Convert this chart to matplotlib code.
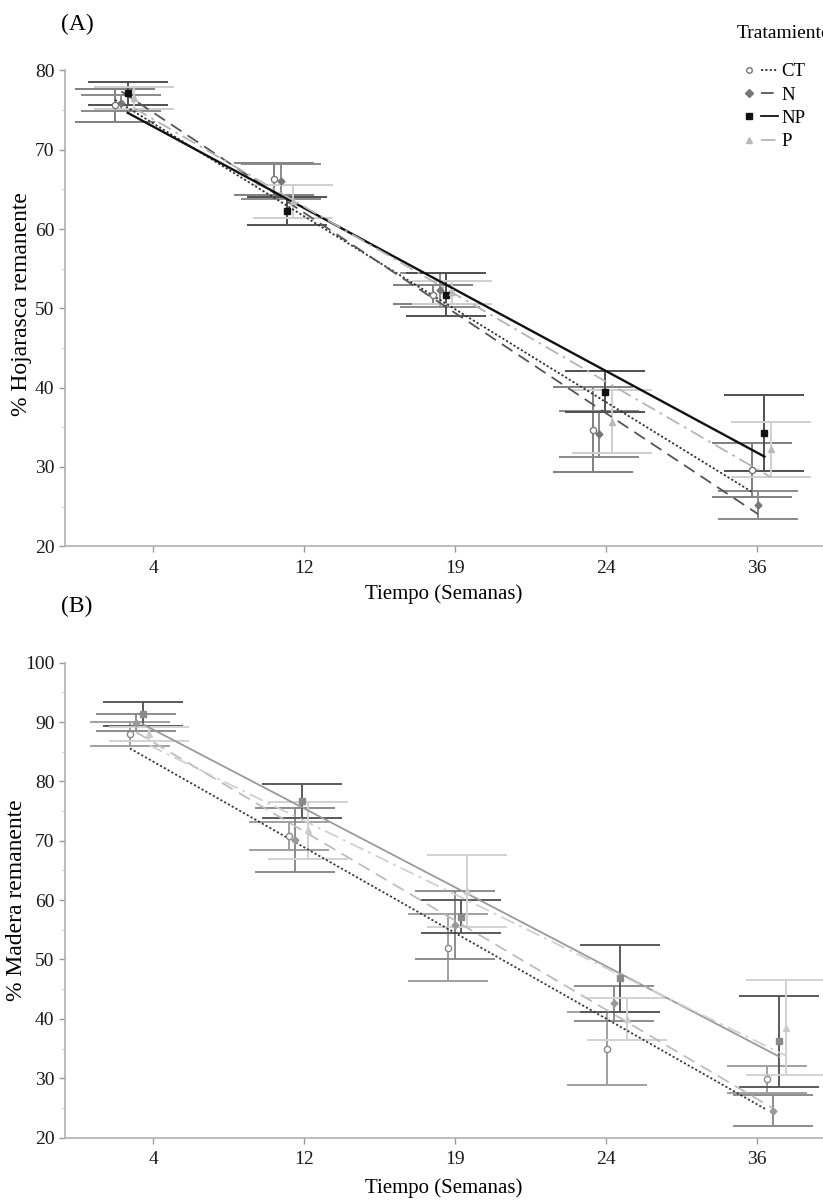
import numpy as np
import matplotlib
matplotlib.use("Agg")
import matplotlib.pyplot as plt
from matplotlib.lines import Line2D
from matplotlib.legend_handler import HandlerTuple
from matplotlib.ticker import MultipleLocator

plt.rcParams['font.family'] = ['Liberation Serif', 'DejaVu Serif']

weeks = ['4', '12', '19', '24', '36']
treatments = ['CT', 'N', 'NP', 'P']

# (A) % hojarasca remanente
litter_mean = {
    'CT': [75.6, 66.3, 51.7, 34.7, 29.6],
    'N':  [75.9, 66.0, 52.3, 34.1, 25.2],
    'NP': [77.1, 62.3, 51.7, 39.5, 34.3],
    'P':  [76.5, 63.5, 52.0, 35.7, 32.2],
}
litter_err = {
    'CT': [2.1, 2.0, 1.2, 5.4, 3.4],
    'N':  [1.0, 2.2, 2.1, 2.9, 1.8],
    'NP': [1.4, 1.8, 2.7, 2.6, 4.8],
    'P':  [1.4, 2.1, 1.5, 4.0, 3.5],
}

# (B) % madera remanente
wood_mean = {
    'CT': [88.0, 70.8, 52.0, 35.0, 29.8],
    'N':  [89.9, 70.2, 55.8, 42.6, 24.5],
    'NP': [91.3, 76.7, 57.2, 46.8, 36.2],
    'P':  [88.0, 71.8, 61.5, 40.0, 38.5],
}
wood_err = {
    'CT': [2.0, 2.4, 5.6, 6.1, 2.3],
    'N':  [1.4, 5.4, 5.8, 3.0, 2.6],
    'NP': [2.0, 2.9, 2.8, 5.7, 7.7],
    'P':  [1.2, 4.8, 6.1, 3.5, 8.0],
}

offsets = {'CT': -0.06, 'N': -0.02, 'NP': 0.02, 'P': 0.06}
markers = {'CT': 'o', 'N': 'D', 'NP': 's', 'P': '^'}
lstyles = {'CT': (0, (1.2, 1.2)), 'N': (0, (7, 4)), 'NP': '-', 'P': (0, (8, 3, 1.5, 3))}

style_a = {
    'CT': dict(mfc='white', mec='#777777', line='#333333', bar='#808080'),
    'N':  dict(mfc='#777777', mec='#777777', line='#555555', bar='#8a8a8a'),
    'NP': dict(mfc='#111111', mec='#111111', line='#111111', bar='#505050'),
    'P':  dict(mfc='#bbbbbb', mec='#bbbbbb', line='#b5b5b5', bar='#cfcfcf'),
}
style_b = {
    'CT': dict(mfc='white', mec='#888888', line='#3a3a3a', bar='#a0a0a0'),
    'N':  dict(mfc='#999999', mec='#999999', line='#bdbdbd', bar='#8c8c8c'),
    'NP': dict(mfc='#8a8a8a', mec='#8a8a8a', line='#9a9a9a', bar='#5a5a5a'),
    'P':  dict(mfc='#cccccc', mec='#cccccc', line='#d0d0d0', bar='#d2d2d2'),
}


def draw_panel(ax, means, errs, styles, shift, lw_np):
    idx = np.arange(len(weeks))
    for t in treatments:
        x = idx + offsets[t] + shift
        y = np.array(means[t])
        st = styles[t]
        ax.errorbar(x, y, yerr=errs[t], fmt='none', ecolor=st['bar'],
                    elinewidth=1.4, capsize=29, capthick=1.4, zorder=2)
        ax.plot(x, y, linestyle='none', marker=markers[t],
                ms=4.5 if t != 'N' else 3.5, mfc=st['mfc'], mec=st['mec'],
                mew=1.0, zorder=4)
        # linear fit per treatment
        k, b = np.polyfit(x, y, 1)
        xf = np.array([x[0], x[-1]])
        ax.plot(xf, k * xf + b, color=st['line'], linestyle=lstyles[t],
                lw=lw_np if t == 'NP' else 1.3, zorder=3)


def style_axes(ax, ylo, yhi):
    ax.set_xlim(-0.374, 4.388)
    ax.set_ylim(ylo, yhi)
    ax.set_xticks(0.179 + 0.949 * np.arange(len(weeks)))
    ax.set_xticklabels(weeks)
    ax.yaxis.set_major_locator(MultipleLocator(10))
    ax.yaxis.set_minor_locator(MultipleLocator(5))
    for s in ['top', 'right']:
        ax.spines[s].set_visible(False)
    for s in ['left', 'bottom']:
        ax.spines[s].set_color('#b0b0b0')
        ax.spines[s].set_linewidth(1.2)
    ax.tick_params(axis='both', which='major', labelsize=14, colors='#999999',
                   labelcolor='#1a1a1a', length=4, width=1)
    ax.tick_params(axis='y', which='minor', length=2.5, colors='#bbbbbb')
    ax.tick_params(axis='x', pad=6)


fig = plt.figure(figsize=(8.23, 12.03), dpi=100)

ax1 = fig.add_axes([0.079, 0.546, 0.921, 0.402])
draw_panel(ax1, litter_mean, litter_err, style_a, 0.0, 1.7)
style_axes(ax1, 20, 81)
ax1.spines['left'].set_bounds(20, 80)
ax1.set_ylabel('% Hojarasca remanente', fontsize=17)
ax1.yaxis.set_label_coords(-0.043, 0.5)
ax1.set_xlabel('Tiempo (Semanas)', fontsize=15, labelpad=5)

ax2 = fig.add_axes([0.079, 0.0544, 0.921, 0.3947])
draw_panel(ax2, wood_mean, wood_err, style_b, 0.094, 1.3)
style_axes(ax2, 20, 100)
ax2.set_ylabel('% Madera remanente', fontsize=17)
ax2.yaxis.set_label_coords(-0.05, 0.5)
ax2.set_xlabel('Tiempo (Semanas)', fontsize=15, labelpad=7)

fig.text(0.074, 0.980, '(A)', fontsize=17, va='center', ha='left')
fig.text(0.074, 0.496, '(B)', fontsize=17, va='center', ha='left')

# legend: marker then line segment, title set apart
handles = []
for t in treatments:
    st = style_a[t]
    m = Line2D([], [], linestyle='none', marker=markers[t], ms=4,
               mfc=st['mfc'], mec=st['mec'])
    ln = Line2D([], [], color=st['line'], linestyle=lstyles[t], lw=1.3)
    handles.append((m, ln))
fig.legend(handles, treatments,
           handler_map={tuple: HandlerTuple(ndivide=None, pad=0.2)},
           loc='upper left', bbox_to_anchor=(0.9, 0.9475),
           bbox_transform=fig.transFigure,
           frameon=False, fontsize=13.5,
           handlelength=2.0, handletextpad=0.15, labelspacing=0.33,
           borderpad=0, borderaxespad=0)
fig.text(0.895, 1 - 33 / 1203, 'Tratamiento', fontsize=14,
         va='center', ha='left')

fig.savefig('out.png', dpi=100)
